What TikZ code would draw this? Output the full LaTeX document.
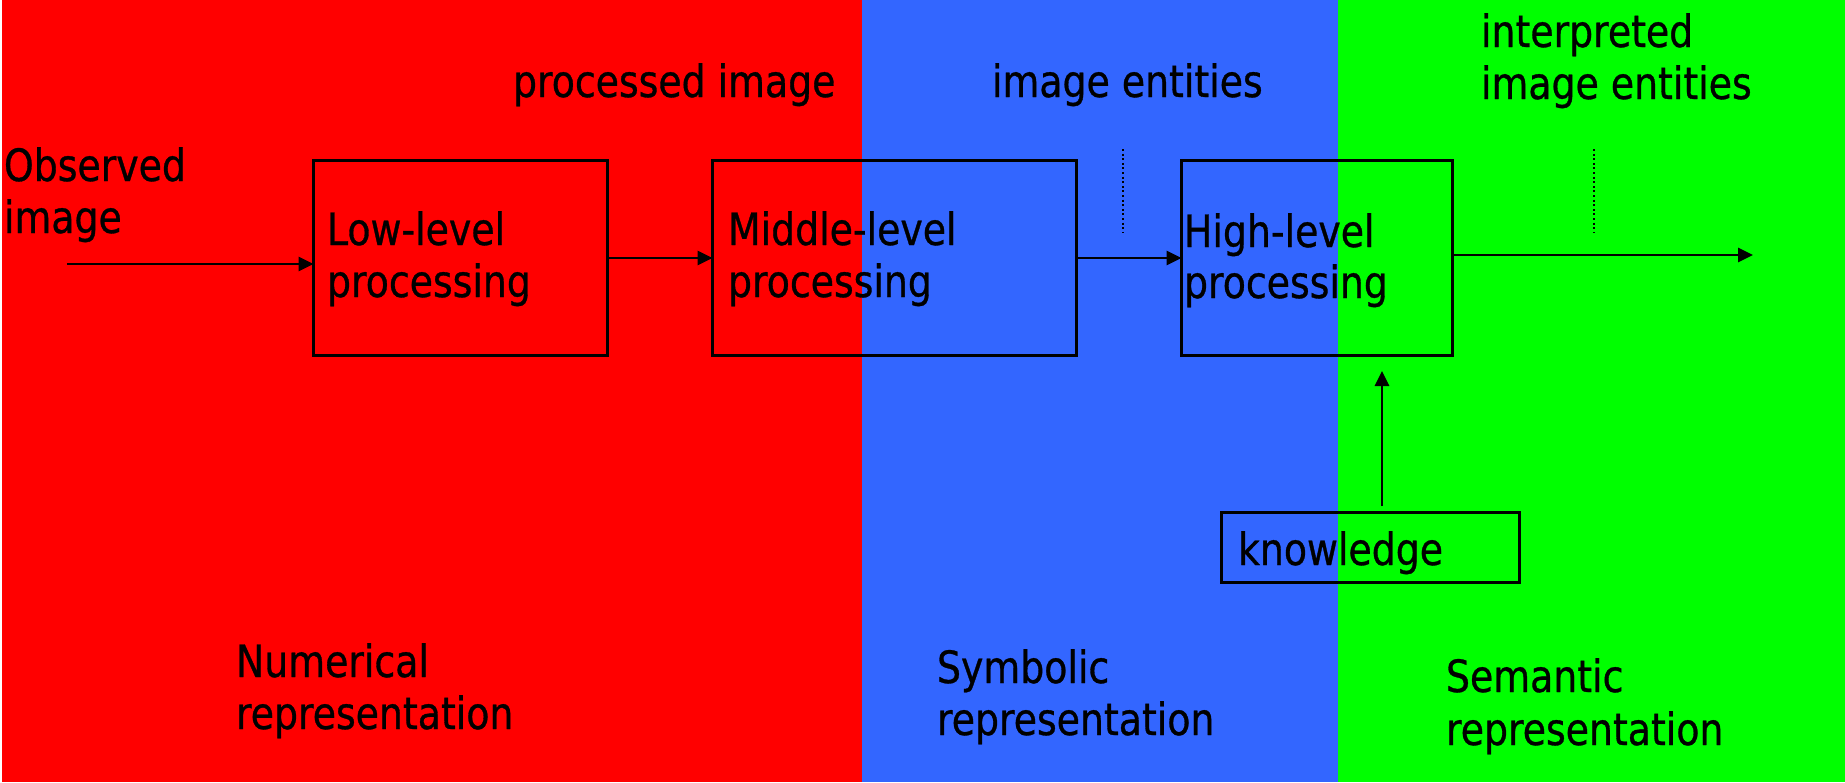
\documentclass[tikz,border=0pt]{standalone}
\usepackage{fontspec}
\setmainfont{DejaVu Sans}[FakeStretch=0.85,FakeBold=0.7]
\usetikzlibrary{arrows.meta}
\definecolor{numred}{HTML}{FF0000}
\definecolor{symblue}{HTML}{3366FF}
\definecolor{semgreen}{HTML}{00FF00}
\begin{document}
\begin{tikzpicture}[x=1pt,y=-1pt,
  lbl/.style={anchor=base west, inner sep=0pt, outer sep=0pt,
    font=\fontsize{44.5}{52}\selectfont},
  stagebox/.style={draw, line width=3pt, inner sep=0pt, outer sep=0pt},
  flow/.style={line width=2.8pt, -{Triangle[length=15pt,width=14pt]}},
  marker/.style={line width=2pt, dash pattern=on 2pt off 2.6pt}]
\useasboundingbox (0,0) rectangle (1845,782);
% three representation bands
\fill[white] (0,0) rectangle (1845,782);
\fill[numred] (2,0) rectangle (862,782);
\fill[symblue] (862,0) rectangle (1338,782);
\fill[semgreen] (1338,0) rectangle (1845,782);

% processing stages
\node[stagebox, minimum width=294pt, minimum height=195pt] (low) at (460.5,258) {};
\node[stagebox, minimum width=364pt, minimum height=195pt] (mid) at (894.5,258) {};
\node[stagebox, minimum width=271pt, minimum height=195pt] (high) at (1317,258) {};
\node[stagebox, minimum width=298pt, minimum height=70pt] (know) at (1370.5,547.5) {};

% stage labels
\node[lbl] (lowA) at (327,245) {Low-level};
\node[lbl] (lowB) at (327,297) {processing};
\node[lbl] (midA) at (728,245) {Middle-level};
\node[lbl] (midB) at (728,297) {processing};
\node[lbl] (highA) at (1184,247) {High-level};
\node[lbl] (highB) at (1184,298) {processing};
\node[lbl] (knowT) at (1238,565) {knowledge};

% data labels
\node[lbl] (obsA) at (4,181) {Observed};
\node[lbl] (obsB) at (4,233) {image};
\node[lbl] (proc) at (513,97) {processed image};
\node[lbl] (ent) at (992,97) {image entities};
\node[lbl] (intA) at (1481,47) {interpreted};
\node[lbl] (intB) at (1481,99) {image entities};

% representation labels
\node[lbl] (numA) at (236,677) {Numerical};
\node[lbl] (numB) at (236,729) {representation};
\node[lbl] (symA) at (937,683) {Symbolic};
\node[lbl] (symB) at (937,735) {representation};
\node[lbl] (semA) at (1446,692) {Semantic};
\node[lbl] (semB) at (1446,745) {representation};

% flow of data
\coordinate (src) at (67,264);
\coordinate (dst) at (1753,255);
\coordinate (kfoot) at (1382,506);
\coordinate (ktip) at (1382,371);
\draw[flow] (src) -- (src -| low.west);
\draw[flow] (low.east) -- (mid.west);
\draw[flow] (mid.east) -- (high.west);
\draw[flow] (dst -| high.east) -- (dst);
\draw[flow] (kfoot) -- (ktip);

% dotted markers under the entity labels
\coordinate (m1a) at (1123,149);
\coordinate (m1b) at (1123,232);
\coordinate (m2a) at (1594,149);
\coordinate (m2b) at (1594,232);
\draw[marker] (m1a) -- (m1b);
\draw[marker] (m2a) -- (m2b);
\end{tikzpicture}
\end{document}
